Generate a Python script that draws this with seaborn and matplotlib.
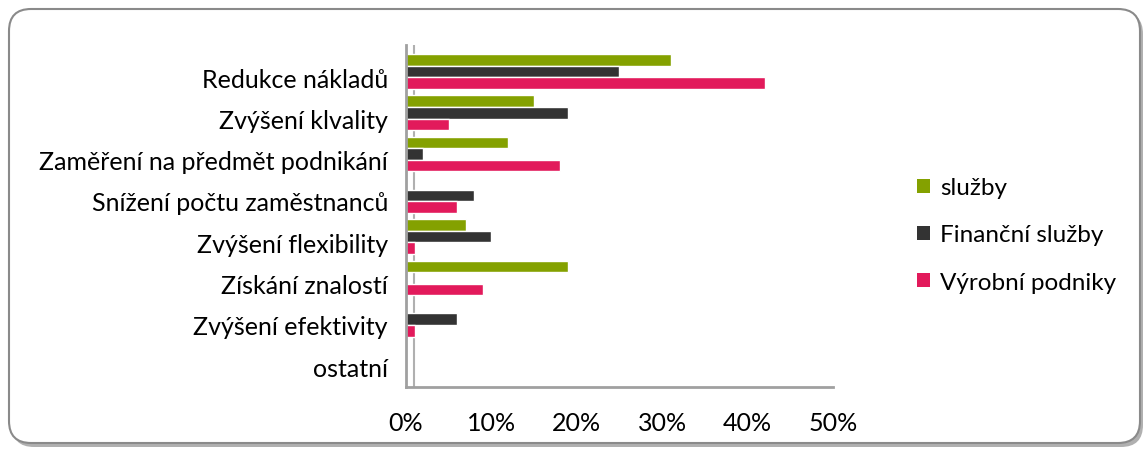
import matplotlib
matplotlib.use("Agg")
import matplotlib.pyplot as plt
import matplotlib.transforms as mtransforms
import seaborn as sns
import pandas as pd
from matplotlib.patches import FancyBboxPatch, Patch
from matplotlib.ticker import FuncFormatter

categories = ["Redukce nákladů", "Zvýšení klvality", "Zaměření na předmět podnikání",
              "Snížení počtu zaměstnanců", "Zvýšení flexibility", "Získání znalostí",
              "Zvýšení efektivity", "ostatní"]
series = ["služby", "Finanční služby", "Výrobní podniky"]
sluzby = [31, 15, 12, 0, 7, 19, 0, 0]
financni = [25, 19, 2, 8, 10, 0, 6, 0]
vyrobni = [42, 5, 18, 6, 1, 9, 1, 0]
colors = ["#84A100", "#333333", "#E21A5B"]

rows = []
for s, vals in zip(series, [sluzby, financni, vyrobni]):
    for c, v in zip(categories, vals):
        rows.append({"kategorie": c, "série": s, "hodnota": v})
df = pd.DataFrame(rows)

sns.set_theme(style="white")
plt.rcParams["font.family"] = ["Lato", "DejaVu Sans"]
plt.rcParams["text.color"] = "black"

fig = plt.figure(figsize=(11.47, 4.52), dpi=100)
fig.patch.set_facecolor("white")

# background frame (pixel coordinates)
bg = fig.add_axes([0, 0, 1, 1], zorder=0)
bg.set_xlim(0, 1147)
bg.set_ylim(452, 0)
bg.axis("off")
bg.add_patch(FancyBboxPatch((12, 13), 1131, 435, boxstyle="round,pad=0,rounding_size=22",
                            facecolor="#b0b0b0", edgecolor="none"))
bg.add_patch(FancyBboxPatch((9, 10), 1131, 434, boxstyle="round,pad=0,rounding_size=22",
                            facecolor="white", edgecolor="#8a8a8a", linewidth=1.5))

ax = fig.add_axes([0.354, 0.1416, 0.3722, 0.7564], zorder=2)
ax.set_facecolor("none")
sns.barplot(data=df, y="kategorie", x="hodnota", hue="série", order=categories,
            hue_order=series, palette=colors, orient="h", width=0.84, ax=ax,
            legend=False, saturation=1)

ax.set_xlim(0, 50)
ax.set_ylim(len(categories) - 0.36, -0.64)
ax.set_xticks([0, 10, 20, 30, 40, 50])
ax.xaxis.set_major_formatter(FuncFormatter(lambda v, p: f"{int(v)}%"))
ax.set_xlabel("")
ax.set_ylabel("")
for sp in ["top", "right"]:
    ax.spines[sp].set_visible(False)
for sp in ["left", "bottom"]:
    ax.spines[sp].set_color("#a0a0a0")
    ax.spines[sp].set_linewidth(2)
ax.axvline(0.95, color="#b0b0b0", linewidth=1.5, zorder=0)
ax.tick_params(axis="both", length=0, labelsize=18, colors="black")
ax.tick_params(axis="y", pad=13)
ax.tick_params(axis="x", pad=17.5)
offset = mtransforms.ScaledTranslation(0, -5.5 / 100, fig.dpi_scale_trans)
for lab in ax.get_yticklabels():
    lab.set_transform(lab.get_transform() + offset)

handles = [Patch(facecolor=c, edgecolor="none") for c in colors]
leg = fig.legend(handles, series, loc="upper left", bbox_to_anchor=(0.789, 0.632),
                 frameon=False, fontsize=17.5, labelspacing=1.07, handlelength=0.52,
                 handleheight=0.52, handletextpad=0.42, borderpad=0)
leg.set_zorder(3)

fig.savefig("out.png", dpi=100, facecolor="white")
